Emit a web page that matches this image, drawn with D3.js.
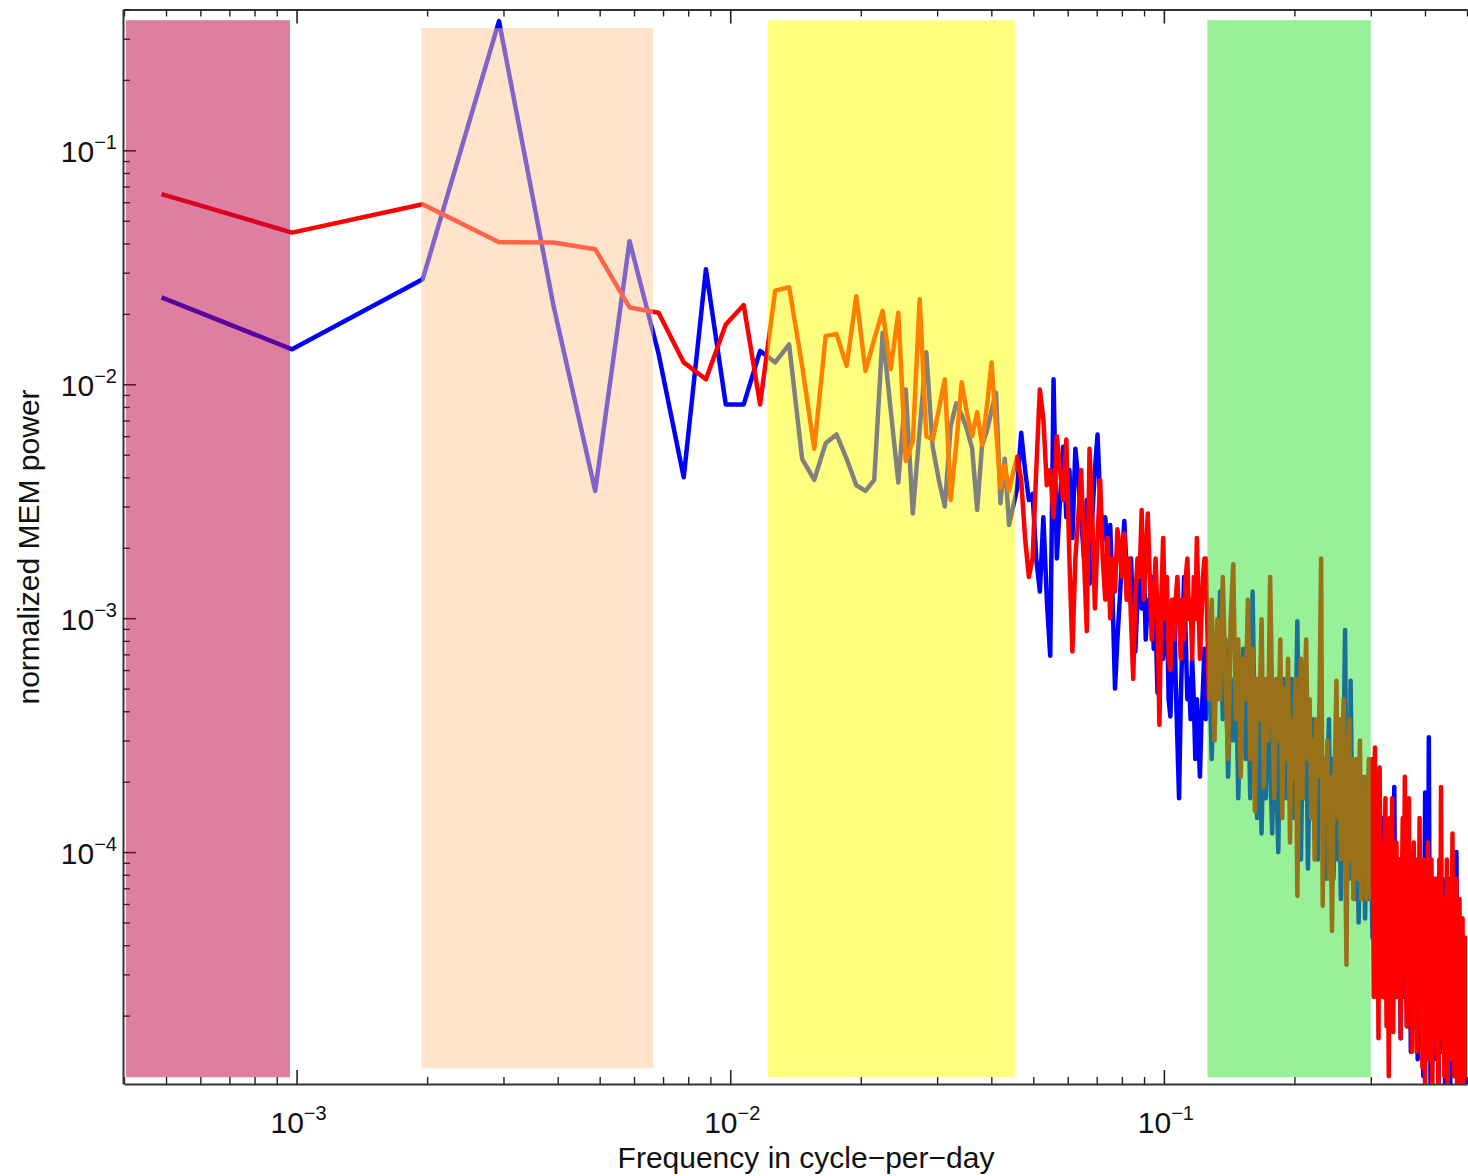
<!DOCTYPE html>
<html>
<head>
<meta charset="utf-8">
<script src="https://cdn.jsdelivr.net/npm/d3@7"></script>
<style>
  body { margin: 0; background: #fff; }
  text { font-family: "Liberation Sans", Arial, sans-serif; fill: #111; }
</style>
</head>
<body>
<div id="chart"></div>
<script>
// frequency bins, in units of 1/1024 cycle-per-day
// (every bin up to 127, every second bin above that)
const bins = [0.5, ...d3.range(1, 128), ...d3.range(128, 513, 2)];

// blue series, normalized MEM power
const blueLow = [
  0.0235, 0.0141, 0.0281, 0.357, 0.022, 0.0035, 0.0409, 0.0135, 0.004, 0.031,
  0.0082, 0.0082, 0.0139, 0.0124, 0.0148, 0.0048, 0.0039, 0.0056, 0.0061, 0.0048,
  0.0037, 0.0035, 0.0039, 0.0166, 0.0078, 0.0038, 0.0095, 0.0028, 0.0064, 0.0137,
  0.0054, 0.0039, 0.003, 0.0066, 0.0083, 0.0074, 0.0064, 0.0053, 0.0029, 0.0055,
  0.0063, 0.0077, 0.0092, 0.0031, 0.0048, 0.0025, 0.003
];
const blueMid = [
  3.6e-3, 6.2e-3, 4.3e-3, 3.2e-3, 3.4e-3, 1.8e-3, 1.3e-3, 2.7e-3, 1.2e-3, 6.9e-4,
  1.05e-2, 1.8e-3, 3.2e-3, 5.4e-3, 2.7e-3, 4.3e-3, 2.2e-3, 5.3e-3, 3.9e-3, 2.7e-3,
  1.8e-3, 3.2e-3, 1.4e-3, 2.7e-3, 4.3e-3, 6.1e-3, 3.2e-3, 2.2e-3, 2.7e-3, 1.8e-3,
  2.5e-3, 1.2e-3, 5e-4, 8.1e-4, 1.2e-3, 1.8e-3, 2.6e-3, 1.6e-3, 1.2e-3, 1.8e-3,
  9.9e-4, 7.2e-4, 1.2e-3, 1.5e-3, 1.1e-3, 1.8e-3, 8.1e-4, 1.2e-3, 9.9e-4, 1.5e-3,
  7.4e-4, 9.9e-4, 4.8e-4, 8.1e-4, 1.2e-3, 6.7e-4, 9.9e-4, 1.3e-3, 4.5e-4, 3.8e-4,
  7.4e-4, 1.2e-3, 5.5e-4, 3e-4, 1.7e-4, 4.5e-4, 8.1e-4, 1.5e-3, 8.1e-4, 4.5e-4,
  5.5e-4, 3.7e-4, 6.7e-4, 4.5e-4, 2.5e-4, 4.5e-4, 3e-4, 2.1e-4, 3.7e-4, 5e-4,
  7.4e-4
];
const blueGreen = [
  3.7e-4, 8.1e-4, 2.5e-4, 6.7e-4, 4.5e-4, 1.3e-3, 3.7e-4, 8.1e-4, 2.1e-4, 5.5e-4,
  3e-4, 6.7e-4, 1.7e-4, 4.5e-4, 7.4e-4, 2.5e-4, 5.5e-4, 1.7e-4, 1.3e-3, 3e-4,
  1.4e-4, 4.5e-4, 1.2e-4, 3.7e-4, 1.7e-4, 5.5e-4, 2.5e-4, 1.2e-4, 3.7e-4, 2.1e-4,
  1e-4, 4.5e-4, 2.5e-4, 5.5e-4, 1.7e-4, 3.7e-4, 2.1e-4, 5.5e-4, 1.4e-4, 3e-4,
  9.7e-4, 2.1e-4, 9.3e-5, 3e-4, 1.7e-4, 4.5e-4, 8.5e-5, 2.5e-4, 1.4e-4, 3.7e-4,
  1.7e-4, 3e-4, 9.3e-5, 2.5e-4, 4.5e-4, 1.4e-4, 2.5e-4, 7.7e-5, 2.1e-4, 3.7e-4,
  1.1e-4, 2.5e-4, 7.7e-5, 1.7e-4, 3e-4, 9.3e-5, 2.1e-4, 6.3e-5, 1.7e-4, 3e-4,
  8.9e-4, 1.4e-4, 2.5e-4, 7.7e-5, 5.4e-4, 1.7e-4, 7.7e-5, 2.1e-4, 6.3e-5, 1.4e-4,
  5e-5, 1.1e-4, 2.1e-4, 7.7e-5, 1.7e-4, 5.2e-5, 1.1e-4, 2.1e-4, 6.3e-5, 1.4e-4
];
const blueHigh = [
  9.3e-5, 4.3e-5, 1.7e-4, 3.2e-5, 7.7e-5, 2.4e-5, 1.1e-4, 3.2e-5, 6.3e-5, 1.4e-4,
  2.4e-5, 7.7e-5, 4.3e-5, 9.3e-5, 1.9e-5, 6.3e-5, 3.5e-5, 1.1e-4, 2.4e-5, 7.7e-5,
  1.9e-4, 3.5e-5, 2.4e-5, 9.3e-5, 4.3e-5, 6.3e-5, 1.6e-5, 7.7e-5, 3.5e-5, 1.1e-4,
  2.4e-5, 6.3e-5, 1.8e-5, 9.3e-5, 3.5e-5, 5.2e-5, 1.4e-5, 7.7e-5, 4.3e-5, 2.4e-5,
  9.3e-5, 2.9e-5, 6.3e-5, 1.3e-5, 5.2e-5, 9.3e-5, 2.4e-5, 4.3e-5, 7.7e-5, 1.1e-5,
  5.2e-5, 1.8e-4, 3.5e-5, 6.3e-5, 2.4e-5, 3.1e-4, 3.5e-5, 9.7e-6, 6.3e-5, 2.4e-5,
  5.2e-5, 1.3e-5, 4.3e-5, 7.7e-5, 1.9e-5, 3.5e-5, 8.8e-6, 6.3e-5, 2.9e-5, 5.2e-5,
  1.4e-5, 7.7e-5, 2.4e-5, 3.5e-5, 9.7e-6, 5.2e-5, 1.4e-5, 7.7e-5, 2.4e-5, 4.3e-5,
  8.8e-6, 2.9e-5, 6.3e-5, 1.4e-5, 3.5e-5, 2.4e-5, 5.2e-5, 1.3e-5, 1e-4, 2.4e-5,
  9.7e-6, 4.3e-5, 1.6e-5, 2.9e-5, 8.8e-6, 5.2e-5, 1.4e-5, 2.4e-5, 8.8e-6, 3.5e-5,
  1.3e-5, 2.4e-5, 9.7e-6
];

// red series, normalized MEM power
const redLow = [
  0.065, 0.0445, 0.0588, 0.0405, 0.0404, 0.0378, 0.0213, 0.0202, 0.0124, 0.0105,
  0.018, 0.0218, 0.0082, 0.0251, 0.026, 0.012, 0.0053, 0.0161, 0.0164, 0.012,
  0.0238, 0.0114, 0.0156, 0.0206, 0.0116, 0.0202, 0.0047, 0.0057, 0.0231, 0.006,
  0.0058, 0.0078, 0.0105, 0.0032, 0.0055, 0.0102, 0.0075, 0.006, 0.0076, 0.0055,
  0.008, 0.0124, 0.0065, 0.0036, 0.0045, 0.0035, 0.0042
];
const redMid = [
  4.9e-3, 3.9e-3, 2.2e-3, 1.5e-3, 1.8e-3, 4.3e-3, 9.5e-3, 7.1e-3, 3.7e-3, 4.3e-3,
  2.7e-3, 6e-3, 4.3e-3, 3.2e-3, 5.8e-3, 1.8e-3, 7.2e-4, 1.8e-3, 2.7e-3, 4.3e-3,
  1.8e-3, 8.8e-4, 5.3e-3, 2.7e-3, 1.1e-3, 2.2e-3, 3.9e-3, 1.8e-3, 1.2e-3, 2.2e-3,
  1e-3, 1.8e-3, 1.3e-3, 2.4e-3, 2e-3, 1.5e-3, 2.3e-3, 1.2e-3, 1.8e-3, 9.9e-4,
  5.5e-4, 1.2e-3, 1.8e-3, 1.5e-3, 2.9e-3, 1.2e-3, 1.8e-3, 2.8e-3, 1.5e-3, 8.1e-4,
  1.2e-3, 1.8e-3, 9.9e-4, 3.5e-4, 1.2e-3, 2.2e-3, 9.9e-4, 1.5e-3, 6.7e-4, 6e-4,
  1.2e-3, 8.1e-4, 1.2e-3, 1.5e-3, 9.9e-4, 6.7e-4, 1.2e-3, 8.1e-4, 1.5e-3, 1.8e-3,
  9.9e-4, 1.2e-3, 6.7e-4, 1.5e-3, 9.9e-4, 2.2e-3, 1.2e-3, 6.7e-4, 9.9e-4, 1.5e-3,
  1.8e-3
];
const redGreen = [
  1.8e-3, 4.5e-4, 1.2e-3, 3e-4, 9.9e-4, 4.5e-4, 1.5e-3, 5.5e-4, 2.5e-4, 9.9e-4,
  1.7e-3, 3.7e-4, 8.1e-4, 2.1e-4, 6.7e-4, 4.5e-4, 1.2e-3, 2.5e-4, 7.4e-4, 1.5e-4,
  5.5e-4, 3.7e-4, 9.9e-4, 1.9e-4, 5.5e-4, 3e-4, 1.5e-3, 4.5e-4, 1.7e-4, 5.5e-4,
  3e-4, 8.1e-4, 1.4e-4, 5e-4, 2.5e-4, 6.7e-4, 1.1e-4, 3.7e-4, 2.1e-4, 5.5e-4,
  6.5e-5, 3e-4, 6.7e-4, 1.7e-4, 4.5e-4, 8.1e-4, 2.5e-4, 4.5e-4, 1.4e-4, 3e-4,
  9.3e-5, 3.7e-4, 2.1e-4, 4.5e-4, 1.8e-3, 5.9e-5, 2.5e-4, 1.4e-4, 3e-4, 7.7e-5,
  2.1e-4, 4.6e-5, 1.7e-4, 2.5e-4, 5.4e-4, 1.4e-4, 3.7e-4, 9.3e-5, 2.5e-4, 4.5e-4,
  1.1e-4, 3.3e-5, 2.1e-4, 3.7e-4, 9.3e-5, 2.5e-4, 6.3e-5, 1.7e-4, 2.5e-4, 7.7e-5,
  1.7e-4, 3e-4, 6.3e-5, 1.4e-4, 9.3e-5, 2.1e-4, 6.3e-5, 1.4e-4, 2.5e-4, 9.3e-5
];
const redHigh = [
  6.3e-5, 2.5e-4, 2.4e-5, 2.8e-4, 5.2e-5, 1.4e-4, 1.6e-5, 2.3e-4, 3.5e-5, 9.3e-5,
  2.4e-5, 7.7e-5, 1.7e-4, 1.8e-5, 6.3e-5, 1.1e-5, 1.4e-4, 3.5e-5, 1.7e-4, 1.7e-5,
  7.7e-5, 3.5e-5, 1.1e-4, 2.4e-5, 5.2e-5, 9.3e-5, 1.6e-5, 6.3e-5, 1.4e-4, 2.9e-5,
  2.1e-4, 4.3e-5, 1.8e-5, 9.3e-5, 1.7e-4, 2.6e-5, 7.7e-5, 1.4e-5, 5.2e-5, 1.1e-4,
  1.8e-5, 6.3e-5, 1.4e-5, 9.3e-5, 3.5e-5, 1.4e-4, 2.4e-5, 6.3e-5, 1.2e-5, 9.3e-5,
  3.5e-5, 8.8e-6, 7.7e-5, 2.4e-5, 1.1e-4, 1.3e-5, 5.2e-5, 2.9e-5, 9.3e-5, 9.7e-6,
  4.3e-5, 2.4e-5, 7.7e-5, 1.6e-5, 6.3e-5, 2.9e-5, 9.7e-6, 9.3e-5, 2.4e-5, 1.9e-4,
  3.5e-5, 1.6e-5, 6.3e-5, 1.1e-5, 5.2e-5, 2.4e-5, 9.3e-5, 8.8e-6, 4.3e-5, 1.9e-5,
  7.7e-5, 1.3e-5, 3.5e-5, 1.2e-4, 2.4e-5, 1.1e-5, 5.2e-5, 1.6e-5, 7.7e-5, 8.8e-6,
  3.5e-5, 1.9e-5, 6.3e-5, 9.7e-6, 2.9e-5, 1.6e-5, 5.2e-5, 8.8e-6, 3.5e-5, 1.3e-5,
  4.3e-5, 1.1e-5, 2.4e-5
];

// shaded frequency bands (cycle-per-day) and their vertical extent (power)
const bandLo = [4.04e-4, 1.94e-3, 1.22e-2, 0.126];
const bandHi = [9.66e-4, 6.64e-3, 4.54e-2, 0.3];
const bandTop = [0.36, 0.333, 0.36, 0.36];
const bandBottom = [1.09e-5, 1.19e-5, 1.09e-5, 1.09e-5];
const bandColors = ["#b90041", "#ffc896", "#ffff00", "#32e132"];

const xMajor = [1e-3, 1e-2, 1e-1];
const yMajor = [1e-4, 1e-3, 1e-2, 1e-1];

const freq = bins.map(k => k / 1024);
const blue = [...blueLow, ...blueMid, ...blueGreen, ...blueHigh];
const red = [...redLow, ...redMid, ...redGreen, ...redHigh];

const width = 1468;
const height = 1176;
const x = d3.scaleLog().domain([4e-4, 0.5]).range([124, 1467]);
const y = d3.scaleLog().domain([1.02e-5, 0.4]).range([1084, 9.5]);

const svg = d3.select("#chart")
  .append("svg")
  .attr("width", width)
  .attr("height", height)
  .style("display", "block");

svg.append("clipPath")
  .attr("id", "plot-clip")
  .append("rect")
    .attr("x", x.range()[0])
    .attr("y", y.range()[1])
    .attr("width", x.range()[1] - x.range()[0])
    .attr("height", y.range()[0] - y.range()[1]);

const isMajor = d => Math.abs(Math.log10(d) - Math.round(Math.log10(d))) < 1e-6;

// axes: ticks point inward, major ticks longer
function frameAxis(axis, transform, minorTicks, len) {
  const g = svg.append("g").attr("transform", transform);
  g.call(axis.tickValues(minorTicks.filter(d => !isMajor(d)))
    .tickSizeInner(len[0]).tickSizeOuter(0).tickFormat(""));
  g.selectAll(".tick line").attr("stroke", "#222").attr("stroke-width", 1.4);
  g.select(".domain").attr("stroke", "#333").attr("stroke-width", 2);
  const gm = svg.append("g").attr("transform", transform);
  gm.call(axis.tickValues(minorTicks.filter(isMajor))
    .tickSizeInner(len[1]).tickSizeOuter(0).tickFormat(""));
  gm.selectAll(".tick line").attr("stroke", "#222").attr("stroke-width", 1.6);
  gm.select(".domain").remove();
}

frameAxis(d3.axisBottom(x), `translate(0,${y.range()[0]})`, x.ticks(), [-7, -14]);
frameAxis(d3.axisTop(x), `translate(0,${y.range()[1]})`, x.ticks(), [-7, -14]);
frameAxis(d3.axisLeft(y), `translate(${x.range()[0] - 1},0)`, y.ticks(), [-7, -13]);

// spectra
const line = d3.line()
  .x((d, i) => x(freq[i]))
  .y(d => y(d));

const lines = svg.append("g").attr("clip-path", "url(#plot-clip)");
lines.append("path")
  .datum(blue)
  .attr("fill", "none")
  .attr("stroke", "#0000ff")
  .attr("stroke-width", 4.5)
  .attr("stroke-linejoin", "round")
  .attr("d", line);
lines.append("path")
  .datum(red)
  .attr("fill", "none")
  .attr("stroke", "#ff0000")
  .attr("stroke-width", 4.5)
  .attr("stroke-linejoin", "round")
  .attr("d", line);

// translucent bands drawn over everything
svg.append("g")
  .selectAll("rect")
  .data(bandLo)
  .join("rect")
    .attr("x", (d, i) => x(bandLo[i]))
    .attr("y", (d, i) => y(bandTop[i]))
    .attr("width", (d, i) => x(bandHi[i]) - x(bandLo[i]))
    .attr("height", (d, i) => y(bandBottom[i]) - y(bandTop[i]))
    .attr("fill", (d, i) => bandColors[i])
    .attr("fill-opacity", 0.5);

// tick labels as 10^n
function powerLabel(sel) {
  sel.append("tspan").text("10");
  sel.append("tspan")
    .attr("font-size", 20)
    .attr("dy", -13)
    .text(d => "\u2212" + Math.abs(Math.round(Math.log10(d))));
}

svg.append("g")
  .selectAll("text")
  .data(xMajor)
  .join("text")
    .attr("x", d => x(d) + 2)
    .attr("y", 1133)
    .attr("text-anchor", "middle")
    .attr("font-size", 30)
    .call(powerLabel);

svg.append("g")
  .selectAll("text")
  .data(yMajor)
  .join("text")
    .attr("x", x.range()[0] - 7)
    .attr("y", d => y(d) + 12)
    .attr("text-anchor", "end")
    .attr("font-size", 30)
    .call(powerLabel);

svg.append("text")
  .attr("x", 806)
  .attr("y", 1168)
  .attr("text-anchor", "middle")
  .attr("font-size", 30)
  .text("Frequency in cycle\u2212per\u2212day");

svg.append("text")
  .attr("transform", "translate(39,547) rotate(-90)")
  .attr("text-anchor", "middle")
  .attr("font-size", 30)
  .text("normalized MEM power");
</script>
</body>
</html>
